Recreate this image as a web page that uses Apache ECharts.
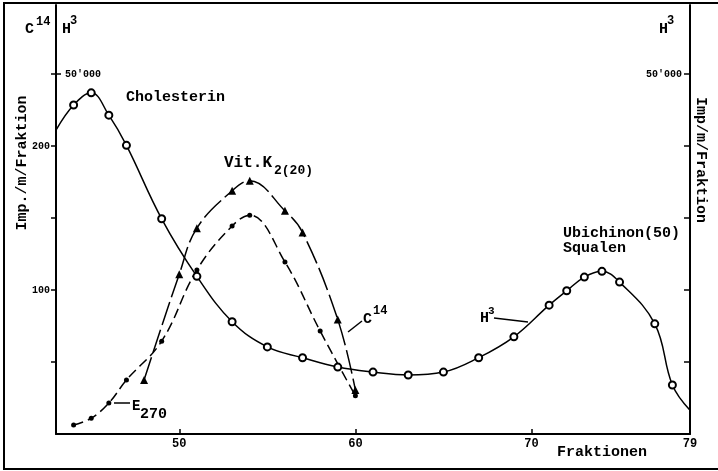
<!DOCTYPE html>
<html>
<head>
<meta charset="utf-8">
<script src="https://cdn.jsdelivr.net/npm/echarts@6/dist/echarts.min.js"></script>
<style>
  html, body { margin: 0; padding: 0; background: #fff; }
  #chart { width: 718px; height: 471px; }
</style>
</head>
<body>
<div id="chart"></div>
<script>
// H3 activity (Imp./m/Fraktion): Cholesterin peak, then Ubichinon(50)/Squalen peak
const h3Fractions = [43, 44, 45, 46, 47, 49, 51, 53, 55, 57, 59, 61, 63, 65, 67, 69, 71, 72, 73, 74, 75, 77, 78, 79];
const h3Counts = [42200, 45700, 47400, 44300, 40100, 29900, 21900, 15600, 12100, 10600, 9300, 8600, 8200, 8600, 10600, 13500, 17900, 19900, 21800, 22600, 21100, 15300, 6800, 3300];
// fractions where the drawn curve only runs out to the axis (no measurement marker)
const h3CurveEnds = [43, 79];

// C14 activity of Vit.K2(20)
const c14Fractions = [48, 50, 51, 53, 54, 56, 57, 59, 60];
const c14Counts = [37.5, 111, 143, 169, 176, 155, 140, 79.5, 30.5];

// Extinction at 270 nm
const e270Fractions = [44, 45, 46, 47, 49, 51, 53, 54, 56, 58, 60];
const e270Values = [6.3, 11, 21.5, 37.5, 64.5, 114, 144.5, 152, 119.5, 71.5, 26.5];

// axis ticks and labels
const fractionTicks = [50, 60, 70];
const fractionLabels = [50, 60, 70, 79];
const c14Ticks = [50, 100, 150, 200, 250];
const c14Labels = [100, 200];
const h3LeftTicks = [50000];
const h3RightTicks = [10000, 20000, 30000, 40000, 50000];
const h3Labels = [50000];

const MONO = '"Liberation Mono", "DejaVu Sans Mono", monospace';
const C14_MAX = 298;
const H3_MAX = C14_MAX * 200;

const chart = echarts.init(document.getElementById('chart'), null, { renderer: 'canvas' });

const h3Data = h3Fractions.map((f, i) => {
  const item = { value: [f, h3Counts[i]] };
  if (h3CurveEnds.includes(f)) item.symbol = 'none';
  return item;
});
const c14Data = c14Fractions.map((f, i) => [f, c14Counts[i]]);
const e270Data = e270Fractions.map((f, i) => [f, e270Values[i]]);

function txt(text, x, y, size, extra) {
  return Object.assign({
    type: 'text', x: x, y: y, silent: true,
    style: { text: text, font: 'bold ' + size + 'px ' + MONO, fill: '#000',
             textAlign: 'left', textVerticalAlign: 'middle' }
  }, extra || {});
}
function seg(x1, y1, x2, y2) {
  return { type: 'line', silent: true,
    shape: { x1: x1, y1: y1, x2: x2, y2: y2 },
    style: { stroke: '#000', lineWidth: 1.5 } };
}

const option = {
  animation: false,
  backgroundColor: '#fff',
  grid: { left: 56, right: 28, top: 5, bottom: 37, containLabel: false },
  xAxis: {
    type: 'value', min: 43, max: 79,
    axisLine: { show: true, lineStyle: { color: '#000', width: 2 } },
    axisTick: { show: true, inside: true, length: 5, customValues: fractionTicks,
                lineStyle: { color: '#000', width: 1.5 } },
    axisLabel: { customValues: fractionLabels, margin: 4, color: '#000',
                 fontFamily: MONO, fontWeight: 'bold', fontSize: 12 },
    splitLine: { show: false }
  },
  yAxis: [
    {
      type: 'value', position: 'left', min: 0, max: C14_MAX,
      axisLine: { show: true, onZero: false, lineStyle: { color: '#000', width: 2 } },
      axisTick: { show: true, length: 5, customValues: c14Ticks,
                  lineStyle: { color: '#000', width: 1.5 } },
      axisLabel: { customValues: c14Labels, margin: 6, color: '#000',
                   fontFamily: MONO, fontWeight: 'bold', fontSize: 10 },
      splitLine: { show: false }
    },
    {
      type: 'value', position: 'left', min: 0, max: H3_MAX,
      axisLine: { show: false },
      axisTick: { show: true, inside: true, length: 5, customValues: h3LeftTicks,
                  lineStyle: { color: '#000', width: 1.5 } },
      axisLabel: { inside: true, customValues: h3Labels, margin: 9, color: '#000',
                   fontFamily: MONO, fontWeight: 'bold', fontSize: 10,
                   formatter: v => "50'000" },
      splitLine: { show: false }
    },
    {
      type: 'value', position: 'right', min: 0, max: H3_MAX,
      axisLine: { show: true, onZero: false, lineStyle: { color: '#000', width: 2 } },
      axisTick: { show: true, inside: true, length: 6, customValues: h3RightTicks,
                  lineStyle: { color: '#000', width: 1.5 } },
      axisLabel: { inside: true, customValues: h3Labels, margin: 8, color: '#000',
                   fontFamily: MONO, fontWeight: 'bold', fontSize: 10,
                   formatter: v => "50'000" },
      splitLine: { show: false }
    }
  ],
  series: [
    {
      name: 'H3', type: 'line', yAxisIndex: 1, data: h3Data, smooth: 0.4,
      symbol: 'emptyCircle', symbolSize: 7, showSymbol: true,
      itemStyle: { color: '#000', borderWidth: 1.5 },
      lineStyle: { color: '#000', width: 1.5 }, z: 3
    },
    {
      name: 'C14', type: 'line', yAxisIndex: 0, data: c14Data, smooth: 0.4,
      symbol: 'triangle', symbolSize: 8,
      itemStyle: { color: '#000' },
      lineStyle: { color: '#000', width: 1.5, type: [24, 5] }, z: 2
    },
    {
      name: 'E270', type: 'line', yAxisIndex: 0, data: e270Data, smooth: 0.4,
      symbol: 'circle', symbolSize: 5,
      itemStyle: { color: '#000' },
      lineStyle: { color: '#000', width: 1.5, type: [10, 5] }, z: 2
    }
  ],
  graphic: [
    // outer frame
    { type: 'rect', silent: true, shape: { x: 4, y: 3, width: 760, height: 466 },
      style: { fill: 'none', stroke: '#000', lineWidth: 2 } },
    // isotope headings above the axes
    txt('C', 25, 29, 15), txt('14', 36, 22, 12),
    txt('H', 62, 29, 15), txt('3', 70, 21, 12),
    txt('H', 659, 29, 15), txt('3', 667, 21, 12),
    // axis titles
    txt('Imp./m/Fraktion', 22, 163, 15,
        { rotation: Math.PI / 2, style: { text: 'Imp./m/Fraktion', font: 'bold 15px ' + MONO, fill: '#000', textAlign: 'center', textVerticalAlign: 'middle' } }),
    txt('Imp/m/Fraktion', 701, 160, 15,
        { rotation: -Math.PI / 2, style: { text: 'Imp/m/Fraktion', font: 'bold 15px ' + MONO, fill: '#000', textAlign: 'center', textVerticalAlign: 'middle' } }),
    txt('Fraktionen', 557, 452, 15),
    // curve annotations
    txt('Cholesterin', 126, 97, 15),
    txt('Vit.K', 224, 163, 16), txt('2(20)', 274, 171, 13),
    txt('Ubichinon(50)', 563, 233, 15),
    txt('Squalen', 563, 248, 15),
    txt('C', 363, 319, 15), txt('14', 373, 311, 12), seg(348, 332, 362, 321),
    txt('H', 480, 318, 15), txt('3', 488, 311, 11), seg(494, 318, 528, 322),
    txt('E', 132, 406, 14), txt('270', 140, 414, 15), seg(114, 403, 130, 403)
  ]
};

chart.setOption(option);
</script>
</body>
</html>
